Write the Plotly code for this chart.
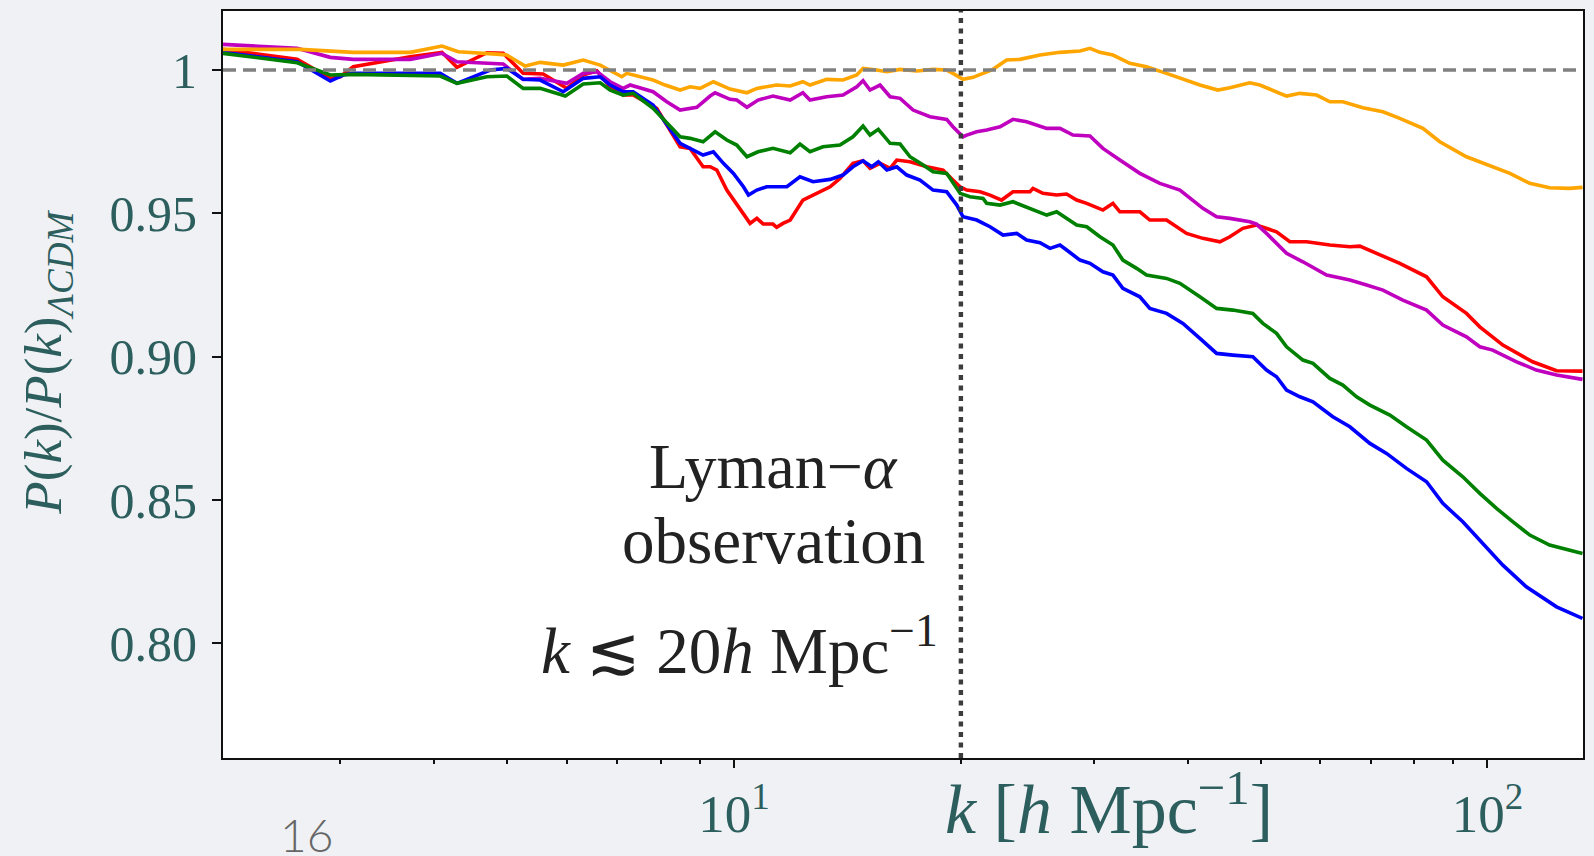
import math
import plotly.graph_objects as go

# ---------------- data (k [h/Mpc], P(k)/P(k)_LCDM) ----------------
orange_pts = [(2.097,1.00722),(2.656,1.00722),(3.122,1.00618),(3.717,1.00618),(4.095,1.00837),(4.304,1.00639),
    (4.892,1.00548),(4.993,1.00523),(5.280,1.00140),(5.528,1.00269),(5.932,1.00174),(6.306,1.00349),(6.642,1.00174),
    (7.096,0.99766),(7.204,0.99885),(7.806,0.99651),(8.099,0.99477),(8.479,0.99302),(8.741,0.99417),(9.013,0.99361),
    (9.387,0.99592),(9.878,0.99337),(10.40,0.99208),(10.72,0.99361),(11.39,0.99477),(11.87,0.99442),(12.34,0.99592),
    (12.61,0.99477),(13.27,0.99676),(13.95,0.99651),(14.55,0.99826),(14.83,1.00059),(15.46,1.00000),(15.95,0.99941),
    (16.61,1.00024),(17.48,0.99965),(18.37,1.00024),(19.15,1.00000),(19.52,0.99885),(20.13,0.99676),(20.76,0.99745),
    (21.40,0.99885),(22.06,1.00024),(23.00,1.00349),(23.96,1.00373),(25.47,1.00523),(27.07,1.00618),(28.78,1.00663),
    (29.67,1.00757),(30.59,1.00618),(31.83,1.00523),(33.52,1.00234),(35.27,1.00115),(37.50,0.99885),(39.86,0.99651),
    (41.52,0.99477),(43.87,0.99302),(45.50,0.99382),(48.36,0.99557),(49.87,0.99477),(54.11,0.99093),(56.36,0.99187),
    (59.32,0.99128),(61.77,0.98894),(64.27,0.98894),(68.32,0.98685),(72.64,0.98545),(76.49,0.98315),(82.08,0.97966),
    (86.44,0.97498),(93.78,0.96975),(98.58,0.96745),(107.1,0.96396),(113.8,0.96047),(120.9,0.95893),(128.5,0.95872),
    (133.7,0.95907)]

magenta_pts = [(2.097,1.00897),(2.630,1.00757),(2.911,1.00443),(3.122,1.00373),(3.717,1.00373),(4.095,1.00583),
    (4.287,1.00290),(4.938,1.00209),(5.248,0.99676),(5.528,0.99710),(5.998,0.99536),(6.306,0.99885),(6.575,0.99941),
    (6.848,0.99592),(7.124,0.99361),(7.278,0.99477),(7.806,0.99243),(8.140,0.98894),(8.479,0.98604),(8.922,0.98699),
    (9.294,0.99093),(9.436,0.99208),(9.878,0.98978),(10.08,0.98953),(10.40,0.98699),(10.76,0.98953),(11.26,0.99093),
    (11.87,0.98953),(12.34,0.99208),(12.61,0.98953),(13.27,0.99068),(13.95,0.99128),(14.55,0.99417),(14.83,0.99627),
    (15.15,0.99302),(15.62,0.99477),(16.11,0.99068),(16.61,0.99013),(17.28,0.98604),(18.20,0.98371),(19.15,0.98280),
    (19.52,0.98022),(20.13,0.97673),(20.36,0.97732),(20.99,0.97847),(21.64,0.97907),(22.54,0.98022),(23.45,0.98280),
    (24.45,0.98196),(26.00,0.97966),(27.07,0.97966),(28.17,0.97732),(29.67,0.97697),(30.87,0.97268),(32.51,0.96860),
    (34.56,0.96396),(36.74,0.96047),(39.06,0.95813),(41.90,0.95175),(43.70,0.94882),(45.50,0.94826),(48.36,0.94707),
    (49.37,0.94627),(50.90,0.94302),(54.11,0.93605),(56.88,0.93311),(61.15,0.92847),(65.66,0.92673),(69.11,0.92499),
    (72.64,0.92324),(77.19,0.91975),(83.01,0.91626),(87.24,0.91103),(93.78,0.90694),(97.68,0.90345),(101.6,0.90230),
    (109.3,0.89822),(116.1,0.89533),(123.5,0.89358),(133.7,0.89208)]

red_pts = [(2.097,1.00722),(2.630,1.00373),(2.911,0.99710),(3.001,0.99766),(3.122,1.00115),(3.717,1.00464),
    (4.095,1.00618),(4.287,1.00094),(4.698,1.00604),(4.938,1.00583),(5.248,0.99885),(5.579,0.99860),(5.998,0.99361),
    (6.306,0.99826),(6.575,0.99976),(6.848,0.99417),(7.124,0.99128),(7.345,0.99128),(7.894,0.98664),(8.479,0.97324),
    (8.741,0.97268),(9.096,0.96626),(9.294,0.96626),(9.485,0.96511),(9.779,0.95813),(10.19,0.95115),(10.50,0.94651),
    (10.72,0.94826),(10.93,0.94627),(11.26,0.94627),(11.39,0.94512),(11.61,0.94651),(11.87,0.94767),(12.34,0.95464),
    (12.87,0.95698),(13.41,0.95928),(13.82,0.96221),(14.38,0.96745),(14.83,0.96835),(15.15,0.96570),(15.62,0.96745),
    (16.11,0.96570),(16.44,0.96860),(17.12,0.96800),(18.02,0.96626),(18.94,0.96511),(19.52,0.96162),(19.95,0.95928),
    (20.36,0.95813),(21.21,0.95754),(21.86,0.95639),(22.65,0.95464),(23.45,0.95754),(24.70,0.95754),(24.93,0.95872),
    (25.70,0.95698),(26.80,0.95639),(27.63,0.95674),(28.49,0.95464),(29.38,0.95349),(30.87,0.95115),(31.83,0.95349),
    (32.51,0.95056),(34.56,0.95056),(35.63,0.94767),(37.50,0.94767),(39.86,0.94302),(41.90,0.94128),(44.14,0.94009),
    (45.50,0.94184),(47.34,0.94477),(49.37,0.94592),(52.48,0.94358),(54.66,0.94009),(57.54,0.94009),(61.77,0.93894),
    (65.66,0.93835),(67.70,0.93859),(71.25,0.93605),(76.49,0.93256),(83.01,0.92788),(87.24,0.92090),(93.78,0.91511),
    (97.68,0.91043),(104.8,0.90405),(114.8,0.89822),(123.5,0.89508),(133.7,0.89498)]

blue_pts = [(2.097,1.00618),(2.630,1.00290),(2.911,0.99616),(3.028,0.99826),(3.122,0.99885),(4.073,0.99885),
    (4.287,0.99536),(4.746,1.00000),(4.993,1.00059),(5.248,0.99676),(5.528,0.99651),(5.932,0.99243),(6.306,0.99710),
    (6.642,0.99766),(6.848,0.99477),(7.124,0.99243),(7.345,0.99243),(7.806,0.98779),(8.479,0.97443),(8.741,0.97268),
    (9.096,0.97034),(9.387,0.97149),(9.678,0.96745),(9.98,0.96396),(10.29,0.95928),(10.45,0.95639),(10.72,0.95813),
    (11.05,0.95928),(11.75,0.95928),(12.23,0.96277),(12.73,0.96103),(13.41,0.96186),(13.95,0.96337),(14.38,0.96626),
    (14.83,0.96835),(15.23,0.96626),(15.54,0.96800),(15.95,0.96511),(16.44,0.96626),(16.95,0.96337),(17.65,0.96162),
    (18.37,0.95813),(19.15,0.95754),(19.75,0.95290),(20.13,0.94882),(20.99,0.94767),(21.86,0.94533),(22.75,0.94243),
    (23.72,0.94302),(24.45,0.94069),(25.47,0.93974),(26.26,0.93779),(27.07,0.93894),(27.63,0.93720),(28.78,0.93371),
    (29.67,0.93256),(30.87,0.92963),(31.83,0.92847),(32.81,0.92383),(34.56,0.92090),(35.63,0.91685),(37.50,0.91511),
    (39.42,0.91162),(41.52,0.90639),(43.70,0.90115),(45.92,0.90056),(48.81,0.89997),(50.90,0.89533),(52.48,0.89299),
    (54.11,0.88835),(56.36,0.88601),(58.66,0.88426),(62.33,0.87903),(65.66,0.87554),(69.81,0.86975),(73.45,0.86626),
    (78.06,0.86103),(83.01,0.85636),(87.24,0.84882),(92.73,0.84240),(96.69,0.83716),(100.7,0.83252),(104.8,0.82729),
    (112.6,0.81971),(120.9,0.81448),(123.5,0.81273),(133.7,0.80869)]

green_pts = [(2.097,1.00583),(2.630,1.00255),(2.911,0.99826),(3.122,0.99850),(4.073,0.99791),(4.287,0.99536),
    (4.698,0.99766),(4.993,0.99791),(5.248,0.99361),(5.528,0.99361),(5.969,0.99093),(6.306,0.99512),(6.642,0.99557),
    (6.848,0.99302),(7.124,0.99128),(7.345,0.99187),(7.806,0.98664),(8.479,0.97673),(8.741,0.97617),(9.096,0.97498),
    (9.436,0.97847),(9.779,0.97558),(10.08,0.97383),(10.40,0.96975),(10.76,0.97149),(11.26,0.97268),(11.87,0.97115),
    (12.23,0.97418),(12.61,0.97149),(13.12,0.97324),(13.82,0.97383),(14.38,0.97673),(14.83,0.98046),(15.15,0.97732),
    (15.54,0.97931),(16.11,0.97443),(16.61,0.97418),(17.12,0.96975),(17.82,0.96685),(18.37,0.96452),(19.15,0.96396),
    (19.95,0.95698),(20.56,0.95579),(21.40,0.95523),(21.64,0.95349),(22.54,0.95290),(23.45,0.95405),(24.45,0.95230),
    (26.00,0.94941),(26.80,0.95056),(27.63,0.94826),(28.49,0.94592),(29.38,0.94533),(30.59,0.94184),(31.83,0.93894),
    (32.81,0.93371),(34.22,0.93081),(35.27,0.92847),(37.50,0.92732),(39.06,0.92558),(41.52,0.92090),(43.70,0.91685),
    (45.92,0.91626),(48.81,0.91511),(50.33,0.91162),(52.48,0.90813),(54.11,0.90345),(56.88,0.89882),(58.66,0.89766),
    (61.77,0.89243),(64.27,0.89009),(67.02,0.88601),(69.81,0.88311),(74.20,0.87962),(78.06,0.87554),(83.01,0.87090),
    (87.24,0.86392),(92.73,0.85810),(97.68,0.85231),(102.8,0.84707),(108.1,0.84240),(113.8,0.83776),(120.9,0.83427),
    (125.9,0.83312),(133.7,0.83137)]

x_range = [2.097, 133.9]
y_range = [0.760, 1.0206]
ref_level = 1.0
lya_k = 20.0
y_tickvals = [0.80, 0.85, 0.90, 0.95, 1.00]
y_ticktext = ["0.80", "0.85", "0.90", "0.95", "1"]
x_tickvals = [10, 100]
x_ticktext = ["10<sup>1</sup>", "10<sup>2</sup>"]
x_minor = [3, 4, 5, 6, 7, 8, 9, 20, 30, 40, 50, 60, 70, 80, 90]

SERIF = "Liberation Serif, Times New Roman, serif"
TEAL = "#2d5e5e"

series = [
    (red_pts, "#ff0000"),
    (magenta_pts, "#bf00bf"),
    (blue_pts, "#0000ff"),
    (green_pts, "#008000"),
    (orange_pts, "#ffa500"),
]

fig = go.Figure()
for pts, col in series:
    fig.add_trace(go.Scatter(x=[p[0] for p in pts], y=[p[1] for p in pts], mode="lines",
                             line=dict(color=col, width=3.6), hoverinfo="skip"))

fig.add_trace(go.Scatter(x=x_range, y=[ref_level, ref_level], mode="lines",
                         line=dict(color="#808080", width=3.4, dash="13px,7px"), hoverinfo="skip"))
fig.add_trace(go.Scatter(x=[lya_k, lya_k], y=y_range, mode="lines",
                         line=dict(color="#3c3c3c", width=4.4, dash="5px,5.5px"), hoverinfo="skip"))

fig.update_layout(
    width=1594, height=856,
    margin=dict(l=223, r=11, t=11, b=98, autoexpand=False),
    paper_bgcolor="#eff1f5", plot_bgcolor="white",
    showlegend=False,
    xaxis=dict(type="log", range=[math.log10(x_range[0]), math.log10(x_range[1])],
               tickmode="array", tickvals=x_tickvals, ticktext=x_ticktext,
               ticks="outside", ticklen=8, tickwidth=2, tickcolor="#111",
               showline=True, linecolor="#111", linewidth=2, mirror=True,
               showgrid=False, zeroline=False, automargin=False,
               tickfont=dict(family=SERIF, size=53, color=TEAL),
               ticklabelstandoff=0,
               minor=dict(tickmode="array", tickvals=x_minor, ticks="outside", ticklen=4,
                          tickwidth=1.5, tickcolor="#111", showgrid=False)),
    yaxis=dict(range=y_range, tickmode="array", tickvals=y_tickvals, ticktext=y_ticktext,
               ticks="outside", ticklen=9, tickwidth=2, tickcolor="#111",
               showline=True, linecolor="#111", linewidth=2, mirror=True,
               showgrid=False, zeroline=False, automargin=False,
               tickfont=dict(family=SERIF, size=50, color=TEAL),
               ticklabelstandoff=5),
)

ann = [
    dict(text="<i>k</i> [<i>h</i> Mpc<sup>−1</sup>]", x=0.6514, y=-0.1232, xanchor="center", yanchor="bottom",
         font=dict(family=SERIF, size=70, color=TEAL)),
    dict(text="<i>P</i>(<i>k</i>)/<i>P</i>(<i>k</i>)<sub><i>ΛCDM</i></sub>", x=-0.1290, y=0.5300,
         xanchor="center", yanchor="middle", textangle=-90,
         font=dict(family=SERIF, size=53, color=TEAL)),
    dict(text="Lyman−<i>α</i>", x=0.4045, y=0.3904, xanchor="center", yanchor="middle",
         font=dict(family=SERIF, size=64, color="#222")),
    dict(text="observation", x=0.4045, y=0.290, xanchor="center", yanchor="middle",
         font=dict(family=SERIF, size=65, color="#222")),
    dict(text="<i>k</i> ≲ 20<i>h</i> Mpc<sup>−1</sup>", x=0.3798, y=0.1494, xanchor="center", yanchor="middle",
         font=dict(family=SERIF, size=65, color="#222")),
    dict(text="16", x=0.0612, y=-0.0629, xanchor="center", yanchor="top",
         font=dict(family="Lato", size=46, color="#666666", weight=300)),
]
for a in ann:
    a.update(xref="paper", yref="paper", showarrow=False)
    fig.add_annotation(**a)

fig.write_html("out.html")
